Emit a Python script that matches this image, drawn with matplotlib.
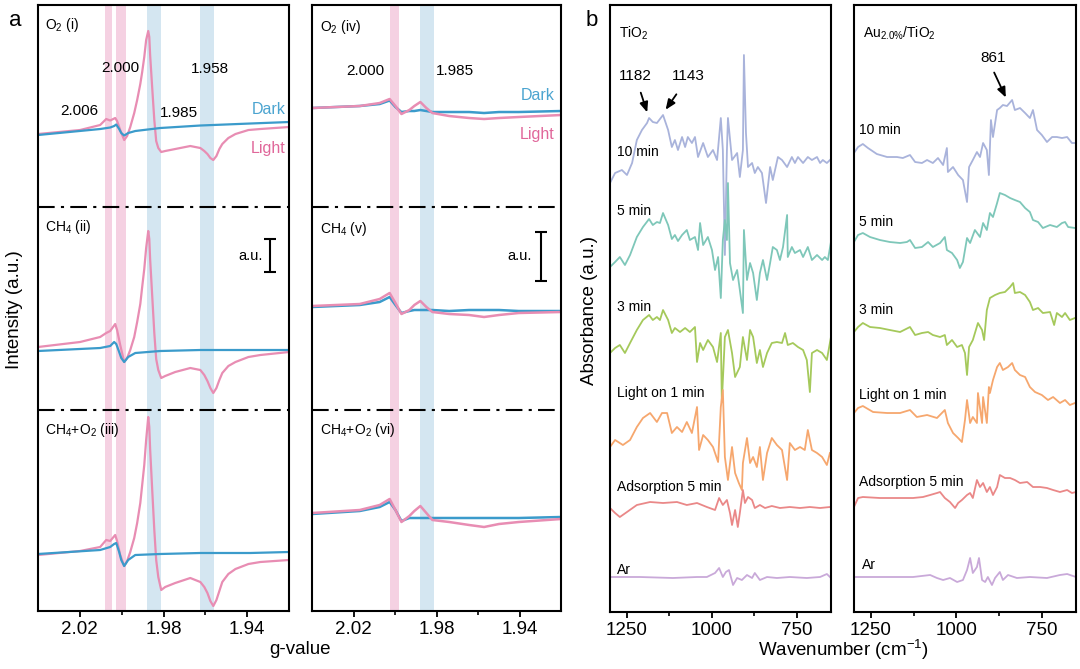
import matplotlib
matplotlib.use("Agg")
import matplotlib.pyplot as plt

plt.rcParams["font.family"] = ["Liberation Sans", "DejaVu Sans"]
plt.rcParams["mathtext.default"] = "regular"

# ---------------- panel a : EPR ----------------
g_light = [2.0400, 2.0199, 2.0103, 2.0074, 2.0055, 2.0031, 2.0022, 2.0007, 1.9988, 1.9974,
           1.9959, 1.9940, 1.9926, 1.9911, 1.9902, 1.9892, 1.9883, 1.9873, 1.9868, 1.9864,
           1.9854, 1.9844, 1.9835, 1.9825, 1.9811, 1.9792, 1.9744, 1.9672, 1.9624, 1.9605,
           1.9590, 1.9576, 1.9562, 1.9547, 1.9533, 1.9519, 1.9490, 1.9456, 1.9394, 1.9337, 1.9200]
light_i = [1, 5, 10, 16, 14.5, 17, 14, 5, -5, -1, 8, 22, 35, 51, 63, 78, 95, 104, 98, 80,
           47, 15, -6, -13, -17, -16, -14, -11, -13, -16, -19, -23, -25, -21, -14, -9, -3, 1,
           5, 6, 8]
light_ii = [4, 9, 14, 18, 20, 27, 21, 6, -11, -7, 1, 14, 29, 47, 64, 82, 103, 120, 112, 92,
            55, 18, -8, -19, -27, -25, -21, -17, -19, -24, -30, -37, -42, -37, -29, -22, -15,
            -11, -6, -4, -1]
light_iii = [0, 4, 8, 15, 14, 20, 14, 0, -11, -6, 3, 17, 32, 52, 70, 90, 115, 138, 128, 106,
             65, 25, -5, -22, -35, -32, -28, -23, -27, -32, -38, -46, -51, -45, -36, -27, -19,
             -14, -9, -7, -5]

g_dark = [2.0400, 2.0103, 2.0055, 2.0036, 2.0026, 2.0012, 2.0002, 1.9988, 1.9969, 1.9935,
          1.9816, 1.9624, 1.9385, 1.9200]
dark_i = [0, 6, 7.5, 9, 10.5, 6, 2, -0.5, 2, 4, 7, 9.5, 11.5, 13]
dark_ii = [0, 3, 5, 9, 7, -1, -7, -11, -6, -2, 0, 1, 1, 1]
dark_iii = [1, 5, 8, 11, 12, 3, -5, -11, -5, 0, 1, 2, 2, 3]

g_right = [2.0400, 2.0170, 2.0074, 2.0026, 1.9998, 1.9969, 1.9931, 1.9907, 1.9878, 1.9849,
           1.9820, 1.9739, 1.9643, 1.9571, 1.9499, 1.9404, 1.9200]
light_iv = [0, 2, 5, 9, 2, -6, -2, 2, 6, 0, -5, -8, -10, -11, -10, -9, -7]
dark_iv = [0, 2, 4, 7.5, 1, -4, -3, -3, -2, -3, -4, -4, -4, -5, -4, -4, -3]
light_v = [1, 3, 8, 14, 4, -7, -3, 2, 6, 0, -5, -7, -8, -10, -8, -6, -5]
dark_v = [0, 2, 5, 10, 2, -6, -4, -3, -3, -3, -3, -4, -3, -3, -3, -4, -4]
light_vi = [1, 4, 9, 15, 4, -8, -2, 3, 8, 1, -6, -8, -11, -13, -10, -8, -5]
dark_vi = [0, 3, 7, 12, 4, -7, -4, -4, -4, -4, -4, -4, -4, -4, -4, -4, -3]

offsets_left = [476, 260, 56]
offsets_right = [503, 304, 97]
pink_bands = [(2.0079, 2.0046), (2.0026, 1.9979)]
blue_bands = [(1.9878, 1.9811), (1.9624, 1.9557)]

# ---------------- panel b : IR ----------------
tio2_10_x = [1300, 1285, 1265, 1250, 1235, 1221, 1206, 1191, 1185, 1174, 1162, 1144, 1129, 1118,
             1109, 1100, 1088, 1079, 1071, 1059, 1050, 1041, 1026, 1012, 997, 985, 974, 968, 962,
             956, 953, 941, 926, 918, 909, 906, 900, 894, 882, 874, 865, 853, 841, 829, 821, 806,
             794, 779, 765, 756, 747, 732, 718, 706, 691, 682, 674, 662, 653]
tio2_10_y = [-23, -13, -10, -15, -3, 20, 30, 37, 42, 38, 37, 45, 30, 13, 20, 10, 23, 13, 23, 17,
             23, 3, 17, 3, 10, 0, 42, 10, -95, 10, 42, 0, 7, -17, 10, 105, 27, -7, -3, -13, -7,
             -13, -43, -7, -20, 3, 0, -7, 3, -3, 3, -3, 3, 0, 3, -3, 0, -3, 0]
tio2_5_x = [1300, 1285, 1271, 1256, 1241, 1221, 1203, 1185, 1174, 1162, 1153, 1144, 1129, 1118,
            1109, 1100, 1088, 1074, 1065, 1050, 1041, 1035, 1026, 1012, 1000, 991, 982, 974, 968,
            962, 956, 953, 947, 938, 926, 918, 909, 906, 897, 888, 879, 868, 859, 850, 838, 829,
            821, 809, 800, 791, 779, 777, 765, 756, 741, 732, 718, 706, 691, 676, 668, 659, 650]
tio2_5_y = [-10, -5, 0, -8, 2, 20, 30, 38, 32, 35, 34, 44, 32, 18, 22, 16, 22, 27, 17, 20, 7, 34,
            12, 20, 7, -13, 0, -41, 17, 37, 17, 74, -6, -23, -13, -33, -56, 27, -23, -6, -16, -43,
            -16, -3, -23, -6, 10, 7, -3, 10, 42, 0, 10, 4, 7, 0, 10, -3, 2, -3, 0, -3, 15]
tio2_3_x = [1300, 1285, 1271, 1256, 1241, 1221, 1203, 1185, 1174, 1162, 1153, 1144, 1129, 1118,
            1109, 1094, 1079, 1065, 1050, 1044, 1035, 1026, 1012, 997, 985, 974, 971, 962, 953,
            941, 932, 918, 909, 897, 888, 879, 868, 859, 850, 838, 824, 809, 794, 785, 777, 762,
            747, 732, 721, 712, 706, 691, 676, 662, 650]
tio2_3_y = [-6, -1, 2, -6, 4, 17, 27, 32, 27, 30, 27, 37, 27, 14, 19, 15, 19, 15, 20, -15, 4, -3,
            7, 0, -15, 14, -55, 10, 17, -6, -30, -20, 10, -13, 17, 10, -16, -3, -20, -6, 4, 5, 4,
            14, 2, 4, 0, -3, -13, -45, -6, -3, -6, -13, 10]
tio2_1_x = [1300, 1285, 1262, 1241, 1221, 1203, 1182, 1162, 1147, 1132, 1118, 1103, 1088, 1074,
            1059, 1044, 1038, 1026, 1012, 997, 982, 974, 968, 962, 953, 941, 932, 921, 912, 909,
            897, 888, 879, 868, 859, 850, 838, 824, 809, 794, 779, 771, 756, 741, 727, 718, 706,
            691, 676, 662, 653]
tio2_1_y = [0, 7, 2, 7, 20, 29, 34, 25, 34, 34, 14, 20, 15, 25, 14, 40, -3, 12, 7, 0, -15, 40, 57,
            -10, -33, 0, -26, -36, -43, -16, 9, -16, -10, -20, 0, -33, -6, 9, 2, -3, -33, 4, -3,
            0, -3, 17, -3, -6, -10, -18, -6]
tio2_ads_x = [1300, 1285, 1271, 1250, 1221, 1182, 1144, 1103, 1074, 1044, 1015, 991, 979, 968,
              956, 947, 941, 932, 924, 918, 909, 903, 894, 882, 874, 859, 844, 824, 800, 771,
              741, 712, 682, 653]
tio2_ads_y = [-1, -6, -10, -5, 2, 5, 4, 5, 2, 4, 0, -3, 9, 2, 7, -6, -18, -3, -20, -6, 17, 4, 10,
              7, -1, 2, -1, 1, -1, 0, -1, 0, -1, 0]
tio2_ar_x = [1300, 1212, 1115, 1044, 1015, 991, 979, 968, 959, 950, 938, 926, 912, 897, 882,
             874, 859, 838, 809, 771, 721, 682, 662, 653]
tio2_ar_y = [0, 0, -1, 0, 0, 4, 9, 0, 5, 7, -8, -1, -3, 2, -1, 4, -3, 0, -1, 0, -1, 0, 3, 0]

au_10_x = [1300, 1288, 1274, 1259, 1233, 1203, 1174, 1157, 1136, 1121, 1101, 1086, 1069, 1054,
           1039, 1028, 1025, 1010, 995, 981, 969, 963, 952, 940, 931, 922, 911, 905, 899, 893,
           881, 873, 864, 852, 837, 829, 814, 799, 785, 776, 764, 750, 735, 720, 706, 691, 676,
           662, 650]
au_10_y = [4, 10, 13, 9, 3, 0, 0, -1, 2, -5, -6, -3, -6, -1, -8, 9, -15, -10, -18, -23, -45,
           -10, -3, 5, 0, 14, 7, -18, 37, 20, 47, 49, 52, 51, 57, 47, 49, 44, 39, 47, 27, 22, 15,
           20, 20, 19, 20, 14, 14]
au_5_x = [1300, 1288, 1274, 1253, 1224, 1195, 1165, 1145, 1136, 1121, 1101, 1083, 1069, 1048,
          1034, 1028, 1013, 998, 990, 981, 969, 960, 946, 931, 922, 911, 902, 893, 881, 873, 858,
          843, 829, 814, 799, 785, 776, 761, 747, 726, 706, 691, 682, 673, 653]
au_5_y = [0, 7, 9, 5, 2, 0, -1, 0, 2, -6, -5, 0, -5, -1, 5, -8, -11, -18, -26, -20, 4, -1, 12,
          5, 19, 12, 29, 25, 39, 49, 47, 44, 42, 40, 34, 30, 22, 20, 14, 17, 15, 19, 20, 15, 14]
au_3_x = [1300, 1288, 1274, 1253, 1224, 1195, 1165, 1136, 1121, 1101, 1083, 1069, 1048, 1034,
          1028, 1013, 998, 984, 975, 969, 963, 952, 937, 925, 919, 911, 902, 887, 873, 858, 843,
          834, 829, 814, 799, 785, 776, 761, 747, 726, 714, 706, 691, 682, 668, 653]
au_3_y = [0, 5, 9, 5, 4, 2, 0, 5, -3, -1, 0, -3, -5, -3, -13, -8, -15, -13, -21, -43, -15, -8,
          9, 2, -8, 22, 34, 37, 39, 40, 45, 49, 39, 40, 37, 30, 22, 24, 19, 20, 7, 19, 15, 19,
          12, 14]
au_1_x = [1300, 1288, 1274, 1244, 1203, 1165, 1136, 1116, 1086, 1057, 1034, 1025, 1010, 995,
          984, 975, 969, 960, 952, 940, 937, 925, 922, 911, 905, 902, 893, 881, 873, 864, 849,
          837, 829, 814, 799, 785, 770, 750, 732, 717, 697, 682, 668, 653]
au_1_y = [0, 5, 7, 1, 0, 0, 3, -4, -2, -5, 3, -10, -20, -25, -29, -7, 13, -10, -4, -10, 20,
          -10, 16, -10, 26, 20, 33, 46, 50, 43, 46, 50, 43, 38, 36, 26, 21, 18, 13, 16, 10, 13,
          8, 10]
au_ads_x = [1300, 1288, 1274, 1224, 1174, 1127, 1098, 1077, 1057, 1048, 1034, 1019, 1004, 995,
            984, 969, 960, 952, 940, 931, 922, 911, 902, 893, 881, 873, 858, 843, 829, 814, 793,
            776, 755, 735, 717, 697, 676, 662, 650]
au_ads_y = [-9, 0, 1, 0, 0, 0, 1, 3, 5, 6, 0, -4, -10, -5, -2, 3, 5, 0, 18, 11, 15, 6, 11, 3,
            11, 23, 20, 20, 18, 15, 16, 11, 11, 10, 8, 6, 8, 5, 6]
au_ar_x = [1300, 1224, 1127, 1077, 1057, 1039, 1019, 998, 981, 969, 960, 952, 940, 934, 925,
           916, 908, 896, 887, 873, 864, 849, 823, 785, 735, 697, 676, 650]
au_ar_y = [0, 0, 0, 2, -1, -3, -1, -5, -3, 7, 19, 4, 10, 19, -3, -5, 0, -8, -1, 5, -3, 2, -1,
           0, -1, 2, 3, 0]

ir_labels = ["10 min", "5 min", "3 min", "Light on 1 min", "Adsorption 5 min", "Ar"]
ir_colors = ["#a9b3db", "#7ec7b9", "#a5c95b", "#f6a76e", "#ea8888", "#c9a9d9"]
tio2_offsets = [452, 355, 265, 165, 105, 35]
au_offsets = [455, 370, 280, 199, 114, 35]

pink_line = "#e88db3"
blue_line = "#3b9bcb"

fig = plt.figure(figsize=(10.8, 6.69), dpi=100)
ax1 = fig.add_axes([0.0352, 0.0867, 0.2324, 0.9058])
ax2 = fig.add_axes([0.2889, 0.0867, 0.2306, 0.9058])
ax3 = fig.add_axes([0.5648, 0.0852, 0.2046, 0.9073])
ax4 = fig.add_axes([0.7907, 0.0852, 0.2056, 0.9073])

for ax in (ax1, ax2, ax3, ax4):
    for s in ax.spines.values():
        s.set_linewidth(1.5)
    ax.set_yticks([])
    ax.tick_params(axis="x", direction="out", length=4, width=1.3, labelsize=13.5, pad=3)
    ax.tick_params(axis="x", which="minor", direction="out", length=3, width=1.2)

# EPR
for lo, hi in pink_bands:
    ax1.axvspan(lo, hi, color="#f5d1e2", lw=0, zorder=0)
for lo, hi in blue_bands:
    ax1.axvspan(lo, hi, color="#d4e6f1", lw=0, zorder=0)
ax2.axvspan(*pink_bands[1], color="#f5d1e2", lw=0, zorder=0)
ax2.axvspan(*blue_bands[0], color="#d4e6f1", lw=0, zorder=0)

for off, dk, lt in zip(offsets_left, [dark_i, dark_ii, dark_iii], [light_i, light_ii, light_iii]):
    ax1.plot(g_light, [v + off for v in lt], color=pink_line, lw=1.6)
    ax1.plot(g_dark, [v + off for v in dk], color=blue_line, lw=1.6)
for off, dk, lt in zip(offsets_right, [dark_iv, dark_v, dark_vi], [light_iv, light_v, light_vi]):
    ax2.plot(g_right, [v + off for v in dk], color=blue_line, lw=1.8)
    ax2.plot(g_right, [v + off for v in lt], color=pink_line, lw=1.8)

for ax in (ax1, ax2):
    ax.set_xlim(2.04, 1.92)
    ax.set_ylim(0, 606)
    ax.set_xticks([2.02, 1.98, 1.94])
    ax.set_xticklabels(["2.02", "1.98", "1.94"])
    ax.set_xticks([2.00, 1.96], minor=True)
    for yl in (404, 201):
        ax.axhline(yl, color="black", lw=1.5, ls=(0, (8, 3, 1.5, 3)))

ax1.text(2.0366, 586, "O$_2$ (i)", fontsize=10, va="center")
ax1.text(2.0366, 384, "CH$_4$ (ii)", fontsize=10, va="center")
ax1.text(2.0366, 181, "CH$_4$+O$_2$ (iii)", fontsize=10, va="center")
ax1.text(2.0204, 500, "2.006", fontsize=11, ha="center", va="center")
ax1.text(2.0007, 543, "2.000", fontsize=11, ha="center", va="center")
ax1.text(1.9576, 542, "1.958", fontsize=11, ha="center", va="center")
ax1.text(1.9725, 498, "1.985", fontsize=11, ha="center", va="center")
ax1.text(1.9217, 502, "Dark", fontsize=11.5, ha="right", va="center", color="#4ba4d0")
ax1.text(1.9217, 463, "Light", fontsize=11.5, ha="right", va="center", color="#e0679a")
ax1.errorbar(1.9289, 355.5, yerr=16.5, color="black", lw=1.5, capsize=4, capthick=1.5)
ax1.text(1.9327, 355, "a.u.", fontsize=10.5, ha="right", va="center")

ax2.text(2.0362, 584, "O$_2$ (iv)", fontsize=10, va="center")
ax2.text(2.0362, 382, "CH$_4$ (v)", fontsize=10, va="center")
ax2.text(2.0362, 181, "CH$_4$+O$_2$ (vi)", fontsize=10, va="center")
ax2.text(2.0141, 540, "2.000", fontsize=11, ha="center", va="center")
ax2.text(1.9710, 540, "1.985", fontsize=11, ha="center", va="center")
ax2.text(1.9231, 516, "Dark", fontsize=11.5, ha="right", va="center", color="#4ba4d0")
ax2.text(1.9231, 477, "Light", fontsize=11.5, ha="right", va="center", color="#e0679a")
ax2.errorbar(1.9298, 354.5, yerr=24.5, color="black", lw=1.5, capsize=4, capthick=1.5)
ax2.text(1.9341, 355, "a.u.", fontsize=10.5, ha="right", va="center")

# IR
tio2_series = [(tio2_10_x, tio2_10_y), (tio2_5_x, tio2_5_y), (tio2_3_x, tio2_3_y),
               (tio2_1_x, tio2_1_y), (tio2_ads_x, tio2_ads_y), (tio2_ar_x, tio2_ar_y)]
au_series = [(au_10_x, au_10_y), (au_5_x, au_5_y), (au_3_x, au_3_y),
             (au_1_x, au_1_y), (au_ads_x, au_ads_y), (au_ar_x, au_ar_y)]

for (x, y), off, c in zip(tio2_series, tio2_offsets, ir_colors):
    ax3.plot(x, [v + off for v in y], color=c, lw=1.3)
for (x, y), off, c in zip(au_series, au_offsets, ir_colors):
    ax4.plot(x, [v + off for v in y], color=c, lw=1.3)

for ax in (ax3, ax4):
    ax.set_xlim(1300, 650)
    ax.set_ylim(0, 607)
    ax.set_xticks([1250, 1000, 750])
    ax.set_xticks([1125, 875], minor=True)

tio2_label_y = [460, 401, 305, 219, 125, 42]
for lab, yy in zip(ir_labels, tio2_label_y):
    ax3.text(1279, yy, lab, fontsize=10, va="center")
ax3.text(1274, 579, "TiO$_2$", fontsize=10, va="center")
ax3.text(1226, 536, "1182", fontsize=11, ha="center", va="center")
ax3.text(1071, 536, "1143", fontsize=11, ha="center", va="center")
ax3.annotate("", xy=(1188, 497), xytext=(1212, 522),
             arrowprops=dict(arrowstyle="-|>,head_length=0.6,head_width=0.25", color="black", lw=1.3))
ax3.annotate("", xy=(1141, 500), xytext=(1100, 520),
             arrowprops=dict(arrowstyle="-|>,head_length=0.6,head_width=0.25", color="black", lw=1.3))

au_label_y = [482, 390, 302, 217, 130, 47]
for lab, yy in zip(ir_labels, au_label_y):
    ax4.text(1285 if lab != "Ar" else 1277, yy, lab, fontsize=10, va="center")
ax4.text(1274, 579, "Au$_{2.0\\%}$/TiO$_2$", fontsize=10, va="center")
ax4.text(893, 554, "861", fontsize=11, ha="center", va="center")
ax4.annotate("", xy=(852, 512), xytext=(893, 542),
             arrowprops=dict(arrowstyle="-|>,head_length=0.6,head_width=0.25", color="black", lw=1.3))

fig.text(15 / 1080, 1 - 20 / 669, "a", fontsize=16, ha="center", va="center")
fig.text(592 / 1080, 1 - 20 / 669, "b", fontsize=16, ha="center", va="center")
fig.text(300 / 1080, 1 - 650 / 669, "g-value", fontsize=13.5, ha="center", va="center")
fig.text(843 / 1080, 1 - 650 / 669, "Wavenumber (cm$^{-1}$)", fontsize=13.5, ha="center", va="center")
fig.text(15 / 1080, 1 - 310 / 669, "Intensity (a.u.)", fontsize=13.5, rotation=90,
         ha="center", va="center")
fig.text(590 / 1080, 1 - 310 / 669, "Absorbance (a.u.)", fontsize=13.5, rotation=90,
         ha="center", va="center")

fig.savefig("out.png", dpi=100)
